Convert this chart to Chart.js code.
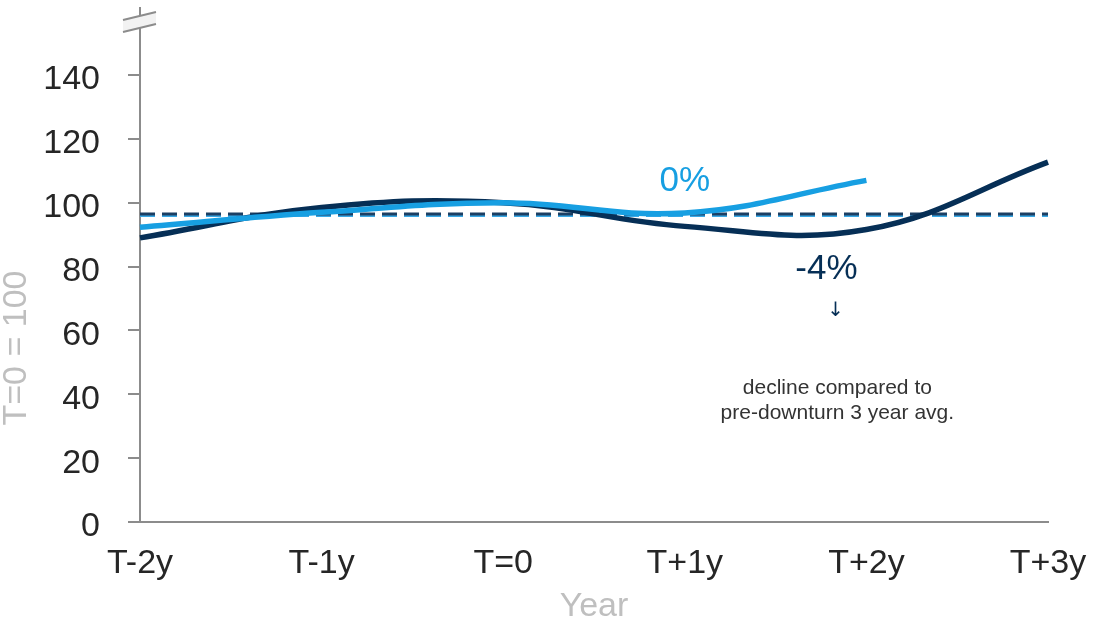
<!DOCTYPE html>
<html>
<head>
<meta charset="utf-8">
<script src="https://cdn.jsdelivr.net/npm/chart.js@4"></script>
<style>
  body { margin: 0; background: #fff; }
  #wrap { width: 1102px; height: 627px; }
</style>
</head>
<body>
<div id="wrap"><canvas id="chart"></canvas></div>
<script>
// data (index, T=0 = 100)
const years = ['T-2y', 'T-1y', 'T=0', 'T+1y', 'T+2y', 'T+3y'];
const lightSeries = [92.3, 97, 100, 96.8, 107, null];
const darkSeries = [89, 98.5, 100, 92.6, 91.6, 112.7];
const darkAvg = [96.5, 96.5, 96.5, 96.5, 96.5, 96.5];
const lightAvg = [96, 96, 96, 96, 96, 96];
const yTicks = [0, 20, 40, 60, 80, 100, 120, 140];

const DARK = '#062f56';
const LIGHT = '#179fe2';
const AXIS = '#8c8c8c';
const FONT = '"Liberation Sans", Arial, sans-serif';

// titles, break mark and annotations
const extras = {
  id: 'extras',
  afterDraw(chart) {
    const { ctx, chartArea, scales } = chart;
    const x = scales.x, y = scales.y;
    ctx.save();

    // axis break
    const bl = chartArea.left - 17, br = chartArea.left + 16;
    const t = chartArea.top;
    ctx.fillStyle = '#f2f2f2';
    ctx.beginPath();
    ctx.moveTo(bl, t + 12); ctx.lineTo(br, t + 4);
    ctx.lineTo(br, t + 16); ctx.lineTo(bl, t + 24);
    ctx.closePath(); ctx.fill();
    ctx.strokeStyle = AXIS; ctx.lineWidth = 2;
    ctx.beginPath();
    ctx.moveTo(bl, t + 12); ctx.lineTo(br, t + 4);
    ctx.moveTo(bl, t + 24); ctx.lineTo(br, t + 16);
    ctx.stroke();

    // y title
    ctx.save();
    ctx.translate(17, 348);
    ctx.rotate(-Math.PI / 2);
    ctx.fillStyle = '#bfbfbf';
    ctx.font = '34px ' + FONT;
    ctx.textAlign = 'center';
    ctx.textBaseline = 'middle';
    ctx.fillText('T=0 = 100', 0, 0);
    ctx.restore();

    ctx.textAlign = 'center';
    ctx.textBaseline = 'middle';
    ctx.font = '35px ' + FONT;
    ctx.fillStyle = LIGHT;
    ctx.fillText('0%', x.getPixelForValue(3), y.getPixelForValue(106.7));
    ctx.fillStyle = DARK;
    ctx.fillText('-4%', x.getPixelForValue(3.78), y.getPixelForValue(79));
    ctx.font = '20px "DejaVu Sans", sans-serif';
    ctx.fillText('\u2193', x.getPixelForValue(3.83), y.getPixelForValue(66));

    ctx.fillStyle = '#333333';
    ctx.font = '21px ' + FONT;
    const cx = x.getPixelForValue(3.84);
    ctx.fillText('decline compared to', cx, y.getPixelForValue(42));
    ctx.fillText('pre-downturn 3 year avg.', cx, y.getPixelForValue(34));
    ctx.restore();
  }
};

new Chart(document.getElementById('chart'), {
  type: 'line',
  data: {
    labels: years,
    datasets: [
      { data: lightSeries, borderColor: LIGHT, borderWidth: 5.5, tension: 0.4 },
      { data: darkSeries, borderColor: DARK, borderWidth: 5.5, tension: 0.4 },
      { data: darkAvg, borderColor: '#1c3f63', borderWidth: 3, borderDash: [15, 7] },
      { data: lightAvg, borderColor: '#3aa9e6', borderWidth: 3, borderDash: [15, 7] },
    ],
  },
  options: {
    responsive: true,
    maintainAspectRatio: false,
    animation: false,
    layout: { padding: { left: 0, top: 8, right: 54, bottom: 0 } },
    elements: { point: { radius: 0 } },
    plugins: { legend: { display: false }, tooltip: { enabled: false } },
    scales: {
      x: {
        offset: false,
        grid: { drawOnChartArea: false, drawTicks: false },
        border: { color: AXIS, width: 2 },
        ticks: { color: '#262626', font: { family: FONT, size: 34 }, padding: 21, maxRotation: 0 },
        title: { display: true, text: 'Year', color: '#bfbfbf', font: { family: FONT, size: 34 }, padding: 0 },
        afterFit(scale) { scale.height = 105; scale.paddingLeft = 0; scale.paddingRight = 0; },
      },
      y: {
        min: 0,
        max: 161,
        afterBuildTicks(scale) { scale.ticks = yTicks.map(v => ({ value: v })); },
        grid: { drawOnChartArea: false, drawTicks: true, tickLength: 12, color: AXIS, lineWidth: 2 },
        border: { color: AXIS, width: 2 },
        ticks: { color: '#262626', font: { family: FONT, size: 34 }, padding: 28, labelOffset: 5 },
        afterFit(scale) { scale.width = 140; scale.paddingTop = 0; scale.paddingBottom = 0; },
      },
    },
  },
  plugins: [extras],
});
</script>
</body>
</html>
